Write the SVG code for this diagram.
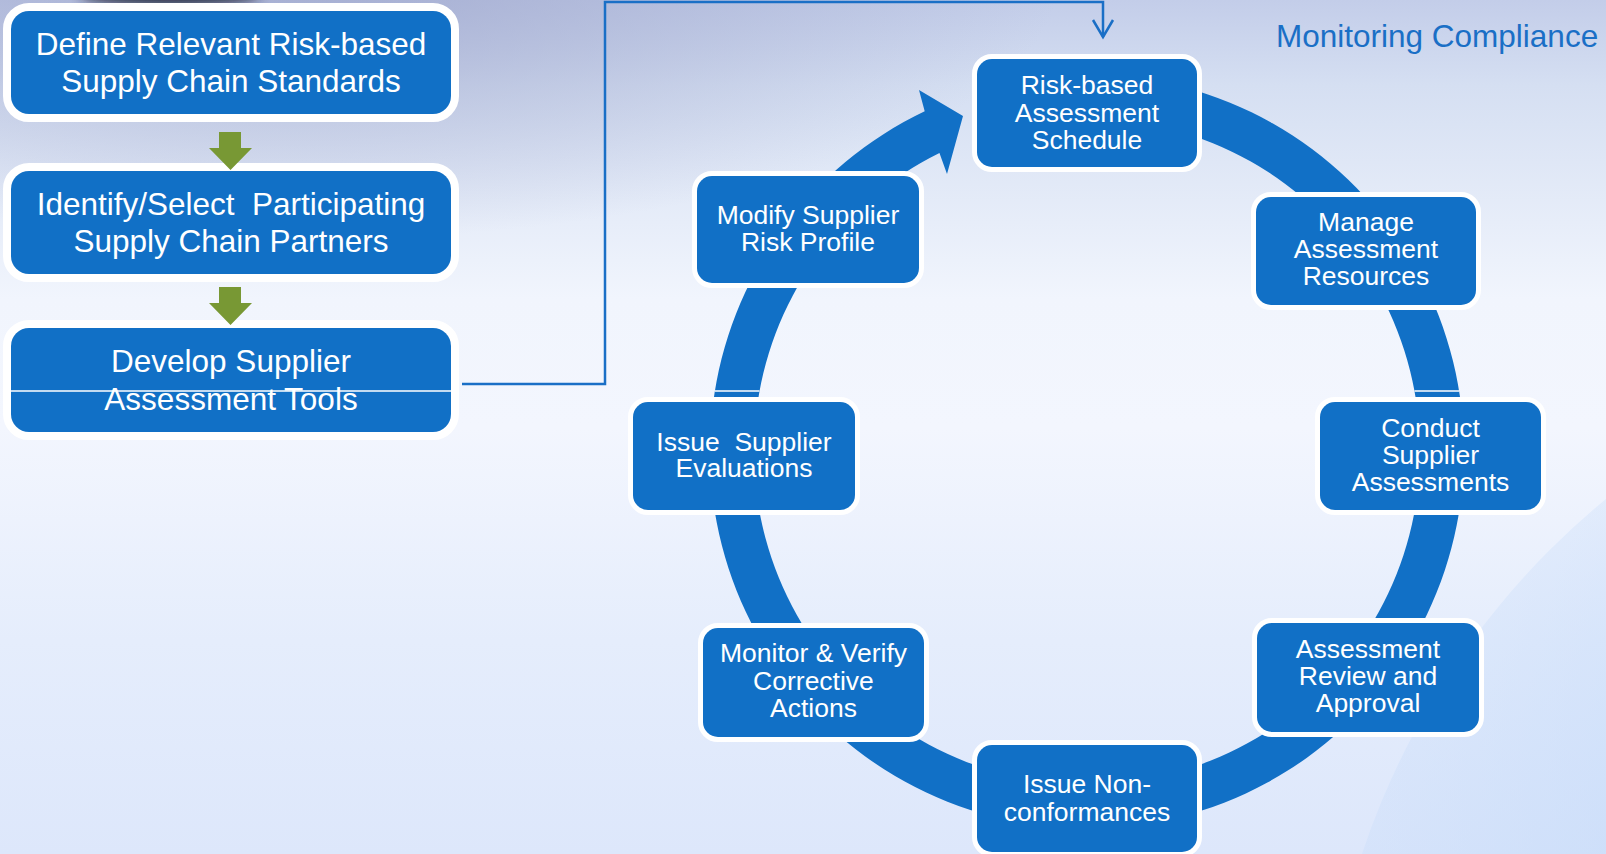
<svg xmlns="http://www.w3.org/2000/svg" width="1606" height="854" viewBox="0 0 1606 854">
<defs>
<linearGradient id="bg" x1="0" y1="0" x2="0" y2="1">
<stop offset="0" stop-color="#c3cde9"/>
<stop offset="0.1" stop-color="#d5dff2"/>
<stop offset="0.35" stop-color="#f1f5fd"/>
<stop offset="0.5" stop-color="#f3f6fe"/>
<stop offset="0.75" stop-color="#e5edfc"/>
<stop offset="1" stop-color="#dde7fb"/>
</linearGradient>
<radialGradient id="tl" cx="0.5" cy="0.5" r="0.5">
<stop offset="0" stop-color="#9ca4ca" stop-opacity="0.75"/>
<stop offset="1" stop-color="#9ca4ca" stop-opacity="0"/>
</radialGradient>
<radialGradient id="br" cx="0.5" cy="0.5" r="0.5">
<stop offset="0.7" stop-color="#c4daf9" stop-opacity="0.6"/>
<stop offset="1" stop-color="#c4daf9" stop-opacity="0.3"/>
</radialGradient>
<filter id="blur" x="-50%" y="-50%" width="200%" height="200%"><feGaussianBlur stdDeviation="6"/></filter>
<marker id="vee" markerUnits="userSpaceOnUse" markerWidth="30" markerHeight="30" refX="0" refY="0" orient="auto" overflow="visible">
<path d="M-17,-10 L0,0 L-17,10" fill="none" stroke="#1a6fc6" stroke-width="2.5"/>
</marker>
<style>
.lb{fill:#1170c6;stroke:#ffffff;stroke-width:16;paint-order:stroke}
.cb{fill:#1170c6;stroke:#ffffff;stroke-width:10;paint-order:stroke}
.lt{font-family:"Liberation Sans",Arial,sans-serif;font-size:31.5px;fill:#ffffff;text-anchor:middle}
.ct{font-family:"Liberation Sans",Arial,sans-serif;font-size:26.5px;fill:#ffffff;text-anchor:middle}
.green{fill:#789834}
.conn{fill:none;stroke:#1a6fc6;stroke-width:2.5}
.wl{stroke:#ffffff;stroke-width:1.4}
</style>
</defs>
<rect x="0" y="0" width="1606" height="854" fill="url(#bg)"/>
<ellipse cx="300" cy="-20" rx="760" ry="260" fill="url(#tl)"/>
<ellipse cx="170" cy="-6" rx="90" ry="12" fill="#1c2236" opacity="0.85" filter="url(#blur)"/>
<circle cx="2100" cy="1100" r="778" fill="url(#br)"/>
<text x="1276" y="47" font-family="Liberation Sans, Arial, sans-serif" font-size="31.5" fill="#1a6fc6">Monitoring Compliance</text>

<g id="ring">
<path d="M1021.53,80.23 A377,377 0 1 1 924.70,111.22 L919,90 L963,116 L947,174 L939.46,152.97 A333,333 0 1 0 1029.17,123.56 Z" fill="#1170c6"/>
<line class="wl" x1="714.9" y1="391" x2="759.5" y2="391"/>
<line class="wl" x1="1414.5" y1="391" x2="1459.1" y2="391"/>
</g>

<g id="define">
<rect class="lb" x="11" y="11" width="440" height="103" rx="18"/>
<text class="lt" x="231" y="55">Define Relevant Risk-based</text>
<text class="lt" x="231" y="92">Supply Chain Standards</text>
</g>
<g id="identify">
<rect class="lb" x="11" y="171" width="440" height="103" rx="18"/>
<text class="lt" x="231" y="215" xml:space="preserve">Identify/Select  Participating</text>
<text class="lt" x="231" y="252">Supply Chain Partners</text>
</g>
<g id="develop">
<rect class="lb" x="11" y="328" width="440" height="104" rx="18"/>
<text class="lt" x="231" y="372">Develop Supplier</text>
<text class="lt" x="231" y="410">Assessment Tools</text>
<line class="wl" x1="11" y1="391" x2="458" y2="391"/>
</g>

<g id="connectors">
<polyline class="conn" points="462,384 605,384 605,2 1103,2 1103,37" marker-end="url(#vee)"/>
<path class="green" d="M219,132 H241 V148 H252 L230.5,170 L209,148 H219 Z"/>
<path class="green" d="M219,287 H241 V303 H252 L230.5,325 L209,303 H219 Z"/>
</g>

<g id="schedule">
<rect class="cb" x="977" y="59" width="220" height="108" rx="15"/>
<text class="ct" x="1087" y="94">Risk-based</text>
<text class="ct" x="1087" y="121.5">Assessment</text>
<text class="ct" x="1087" y="149">Schedule</text>
</g>
<g id="manage">
<rect class="cb" x="1256" y="197" width="220" height="108" rx="15"/>
<text class="ct" x="1366" y="230.5">Manage</text>
<text class="ct" x="1366" y="258">Assessment</text>
<text class="ct" x="1366" y="285">Resources</text>
</g>
<g id="conduct">
<rect class="cb" x="1320" y="402" width="221" height="108" rx="15"/>
<text class="ct" x="1430.5" y="436.5">Conduct</text>
<text class="ct" x="1430.5" y="463.5">Supplier</text>
<text class="ct" x="1430.5" y="490.5">Assessments</text>
</g>
<g id="review">
<rect class="cb" x="1257" y="623" width="222" height="109" rx="15"/>
<text class="ct" x="1368" y="657.5">Assessment</text>
<text class="ct" x="1368" y="685">Review and</text>
<text class="ct" x="1368" y="711.5">Approval</text>
</g>
<g id="nonconf">
<rect class="cb" x="977" y="745" width="220" height="107" rx="15"/>
<text class="ct" x="1087" y="792.5">Issue Non-</text>
<text class="ct" x="1087" y="820.5">conformances</text>
</g>
<g id="monitor">
<rect class="cb" x="703" y="628" width="221" height="109" rx="15"/>
<text class="ct" x="813.5" y="662">Monitor &amp; Verify</text>
<text class="ct" x="813.5" y="690">Corrective</text>
<text class="ct" x="813.5" y="717">Actions</text>
</g>
<g id="evaluations">
<rect class="cb" x="633" y="402" width="222" height="108" rx="15"/>
<text class="ct" x="744" y="450.5" xml:space="preserve">Issue  Supplier</text>
<text class="ct" x="744" y="477">Evaluations</text>
</g>
<g id="modify">
<rect class="cb" x="697" y="176" width="222" height="107" rx="15"/>
<text class="ct" x="808" y="224">Modify Supplier</text>
<text class="ct" x="808" y="250.5">Risk Profile</text>
</g>
</svg>
